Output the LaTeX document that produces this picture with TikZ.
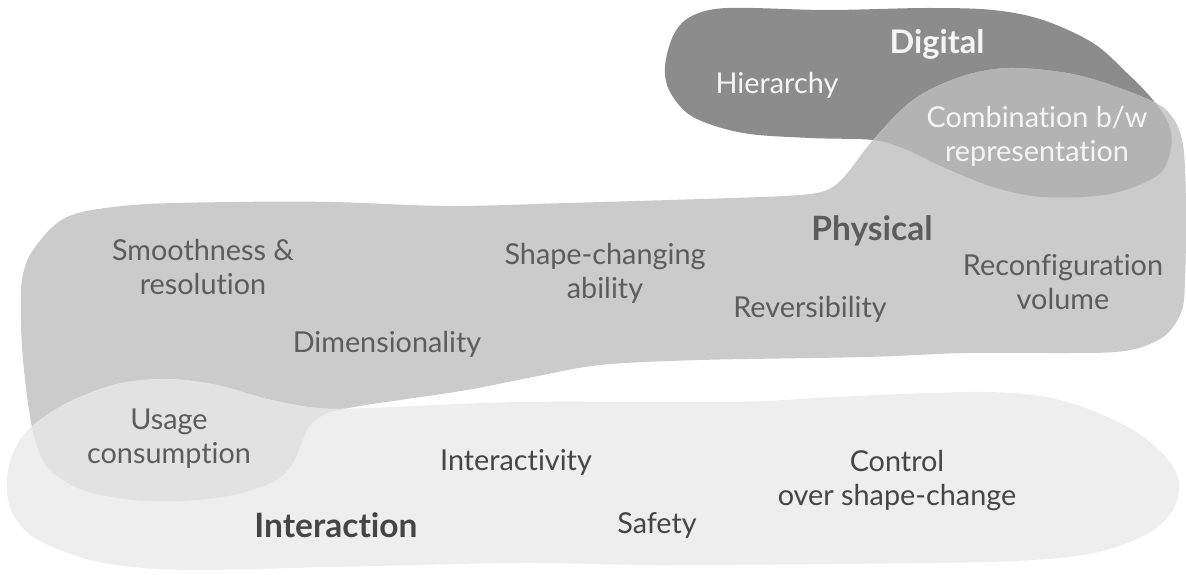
\documentclass[tikz,border=0pt]{standalone}
\usepackage{fontspec}
\setmainfont{Lato}[Ligatures=NoCommon]
\definecolor{digi}{HTML}{8C8C8C}
\definecolor{phys}{HTML}{CBCBCB}
\definecolor{digiphys}{HTML}{B3B3B3}
\definecolor{inter}{HTML}{EEEEEE}
\definecolor{physinter}{HTML}{E2E2E2}
\definecolor{txtphys}{HTML}{5C5C5C}
\definecolor{txtinter}{HTML}{454545}
\definecolor{txtlight}{HTML}{F5F5F5}
\def\digipath{plot[smooth cycle, tension=0.55] coordinates {(665,67) (673,36) (690,17) (727,8) (827,10) (927,8) (993,10) (1043,20) (1093,43) (1127,73) (1153,100) (1169,125) (1171,148) (1158,175) (1110,194) (1043,197) (993,187) (943,167) (905,149) (873,140) (810,138) (743,133) (693,117) (670,92)}}
\def\physpath{plot[smooth cycle, tension=0.55] coordinates {(133,205) (233,202) (333,202) (450,206) (567,203) (733,198) (800,195) (827,190) (845,176) (873,140) (913,100) (960,77) (1010,68) (1077,75) (1143,97) (1170,114) (1183,145) (1186,210) (1185,280) (1182,310) (1168,333) (1145,346) (1116,352) (1066,353) (966,353) (866,357) (700,360) (600,365) (533,377) (467,390) (400,400) (360,406) (328,413) (310,425) (302,442) (293,463) (275,481) (233,495) (183,501) (133,500) (83,490) (50,470) (36,443) (29,410) (23,360) (21,320) (22,280) (33,250) (67,217)}}
\def\interpath{plot[smooth cycle, tension=0.55] coordinates {(30,428) (67,403) (117,384) (167,379) (217,385) (267,399) (317,408) (367,408) (520,402) (733,402) (833,397) (966,392) (1033,395) (1083,407) (1133,430) (1166,457) (1179,483) (1173,510) (1149,533) (1099,552) (1033,560) (933,563) (666,565) (520,563) (333,567) (200,570) (133,567) (83,558) (33,537) (11,510) (7,480) (13,453)}}
\tikzset{
  lbl/.style={font=\fontsize{28.8}{33.5}\selectfont, align=center, anchor=base, inner sep=0pt},
  head/.style={font=\fontsize{33.5}{38}\selectfont\bfseries, align=center, anchor=base, inner sep=0pt},
  onphys/.style={text=txtphys},
  oninter/.style={text=txtinter},
  ondigi/.style={text=txtlight}
}
\begin{document}
\begin{tikzpicture}[x=1pt,y=-1pt]
\useasboundingbox (0,0) rectangle (1186,575);
% regions
\fill[digi] \digipath;
\fill[phys] \physpath;
\begin{scope}
  \clip \digipath;
  \fill[digiphys] \physpath;
\end{scope}
\fill[inter] \interpath;
\begin{scope}
  \clip \interpath;
  \fill[physinter] \physpath;
\end{scope}
% Digital
\node[head, ondigi, font=\fontsize{32.5}{38}\selectfont\bfseries] (digital) at (937,54) {Digital};
\node[lbl, ondigi] (hier) at (777,94) {Hierarchy};
\node[lbl, ondigi] (comb) at (1037,161) {Combination b/w\\representation};
% Physical
\node[head, onphys] (physical) at (872,240) {Physical};
\node[lbl, onphys] (smooth) at (203,294) {Smoothness \&\\resolution};
\node[lbl, onphys] (shape) at (605,298) {Shape-changing\\ability};
\node[lbl, onphys] (reconf) at (1063,309) {Reconfiguration\\volume};
\node[lbl, onphys] (rev) at (810,317) {Reversibility};
\node[lbl, onphys] (dim) at (387,352) {Dimensionality};
\node[lbl, onphys] (usage) at (169,463) {Usage\\consumption};
% Interaction
\node[head, oninter] (interaction) at (336,537) {Interaction};
\node[lbl, oninter] (interact) at (516,470) {Interactivity};
\node[lbl, oninter] (safety) at (657,533) {Safety};
\node[lbl, oninter] (control) at (897,505) {Control\\over shape-change};
\end{tikzpicture}
\end{document}
